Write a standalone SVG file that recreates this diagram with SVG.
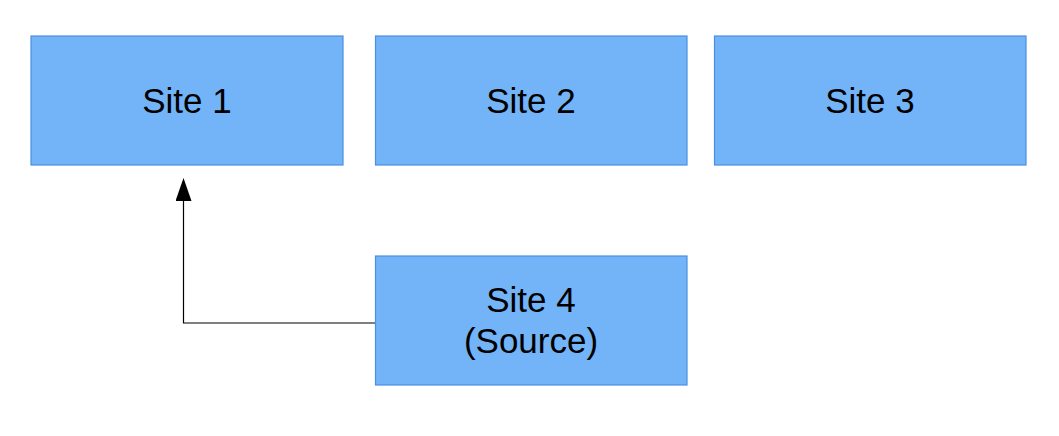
<svg xmlns="http://www.w3.org/2000/svg" width="1059" height="436" viewBox="0 0 1059 436">
<style>
.box{fill:#72b4f7;stroke:#4a90e2;stroke-width:1.2}
.lbl{font-family:"Liberation Sans",Arial,sans-serif;font-size:35px;fill:#000;text-anchor:middle}
.conn{fill:none;stroke:#000;stroke-width:1.2}
</style>
<defs>
<marker id="arr" markerWidth="16" markerHeight="23" refX="8" refY="23" orient="0" markerUnits="userSpaceOnUse" viewBox="0 0 16 23">
<path d="M0,23 L8,0 L16,23 Z" fill="#000"/>
</marker>
</defs>
<rect width="1059" height="436" fill="#fff"/>
<g id="connectors">
<path class="conn" d="M375,323 H183.5 V201" marker-end="url(#arr)"/>
</g>
<g id="site1"><rect class="box" x="31" y="36" width="312" height="129"/><text class="lbl" x="187" y="113">Site 1</text></g>
<g id="site2"><rect class="box" x="375.5" y="36" width="311.5" height="129"/><text class="lbl" x="531" y="113">Site 2</text></g>
<g id="site3"><rect class="box" x="714.5" y="36" width="311.5" height="129"/><text class="lbl" x="870" y="113">Site 3</text></g>
<g id="site4"><rect class="box" x="375.5" y="256" width="311.5" height="129"/><text class="lbl" x="531" y="312">Site 4</text><text class="lbl" x="531" y="353">(Source)</text></g>
</svg>
